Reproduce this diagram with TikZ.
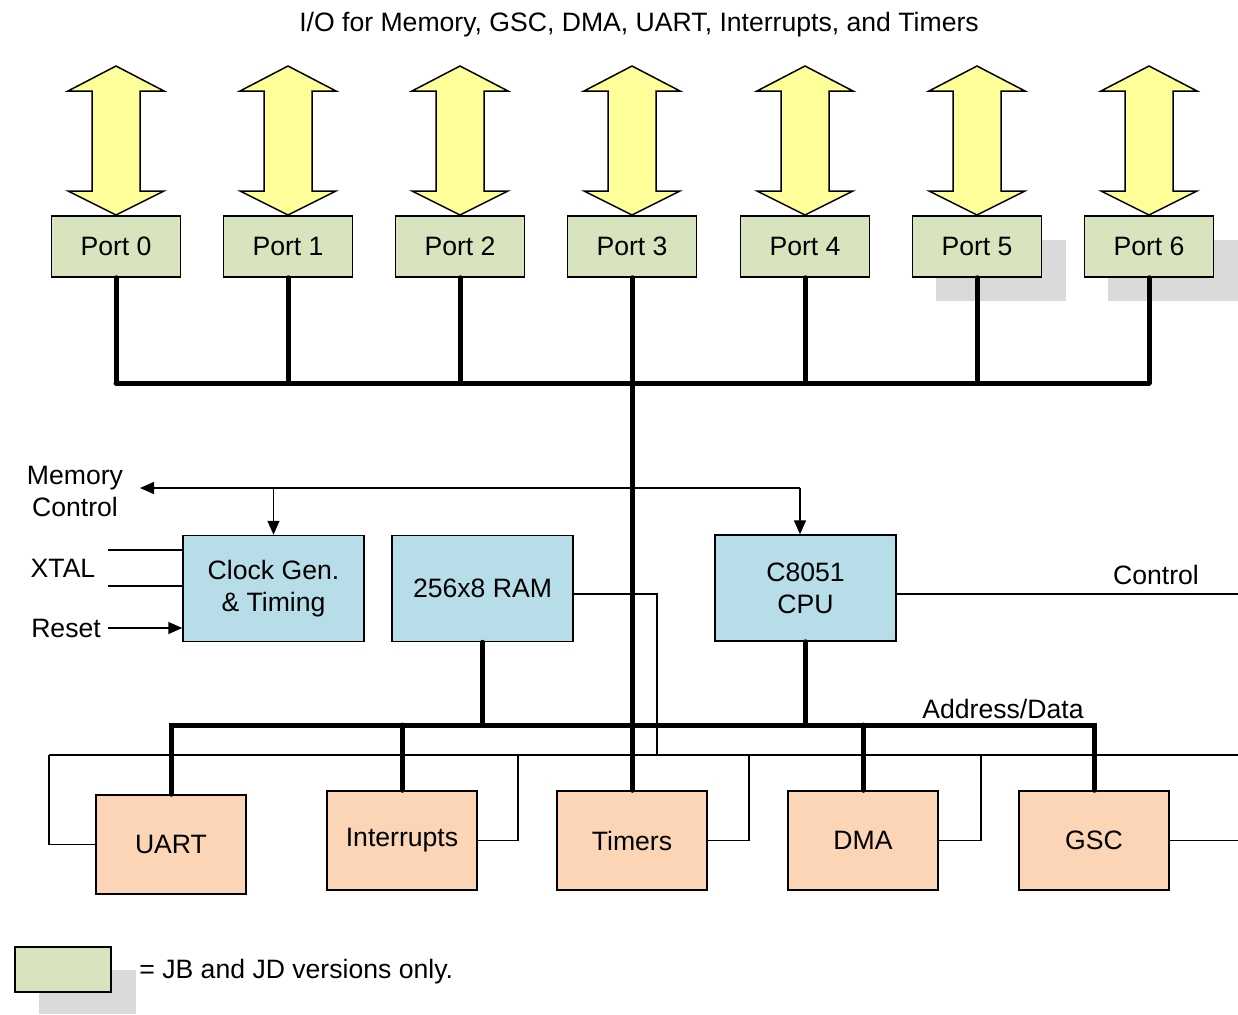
\documentclass[tikz,border=0pt]{standalone}
\usepackage{fontspec}
\setmainfont{Liberation Sans}
\usetikzlibrary{arrows.meta}
\definecolor{portgreen}{HTML}{D7E4BD}
\definecolor{arrowyellow}{HTML}{FFFF99}
\definecolor{blkblue}{HTML}{B7DDE8}
\definecolor{perpeach}{HTML}{FBD5B5}
\definecolor{shadowgray}{HTML}{DADADA}
\begin{document}
\begin{tikzpicture}[x=0.5pt,y=-0.5pt,
  font=\fontsize{13.3}{16}\selectfont,
  box/.style={draw, line width=0.75pt, inner sep=0pt, align=center},
  port/.style={box, fill=portgreen, minimum width=64.5pt, minimum height=30.5pt},
  blk/.style={box, fill=blkblue, minimum width=90.5pt, minimum height=53pt},
  per/.style={box, fill=perpeach, minimum width=75pt, minimum height=49.5pt},
  bus/.style={line width=2.5pt, line cap=round},
  sig/.style={line width=0.75pt},
  shade/.style={fill=shadowgray},
  arr/.style={-{Triangle[length=7pt,width=6pt]}},
  bigarrow/.style={draw, line width=0.75pt, fill=arrowyellow, line join=miter}]
\useasboundingbox (0,0) rectangle (1238,1014);
\node (title) at (639,25) {I/O for Memory, GSC, DMA, UART, Interrupts, and Timers};
% shadows
\fill[shade] (936,240) rectangle (1066,301);
\fill[shade] (1108,240) rectangle (1238,301);
\fill[shade] (39,970) rectangle (136,1014);
% ports and block arrows
\foreach \i/\cx in {0/116,1/288,2/460,3/632,4/805,5/977,6/1149}{
  \draw[bigarrow] (\cx,66) -- (\cx+48,91) -- (\cx+24,91) -- (\cx+24,191) -- (\cx+48,191)
     -- (\cx,215) -- (\cx-48,191) -- (\cx-24,191) -- (\cx-24,91) -- (\cx-48,91) -- cycle;
  \node[port] (p\i) at (\cx,246.5) {Port \i};
}
% blocks
\node[blk] (clk) at (273.5,588.5) {Clock Gen.\\\& Timing};
\node[blk] (ram) at (482.5,588.5) {256x8 RAM};
\node[blk] (cpu) at (805.5,588) {C8051\\CPU};
% peripherals
\node[per] (uart) at (171,844.5) {UART};
\node[per] (int) at (402,840.5) {Interrupts};
\node[per] (tim) at (632,840.5) {Timers};
\node[per] (dma) at (863,840.5) {DMA};
\node[per] (gsc) at (1094,840.5) {GSC};
% legend
\node[port, minimum width=48pt, minimum height=22.5pt] (leg) at (63,969.5) {};
\node[anchor=west, inner sep=0pt] (legtxt) at (139,972) {= JB and JD versions only.};
% labels
\node[align=center] (memctl) at (75,491) {Memory\\Control};
\node (xtal) at (63,568) {XTAL};
\node (rst) at (66,628) {Reset};
\node (ctl) at (1156,575) {Control};
\node (addr) at (1003,709) {Address/Data};
% coordinates
\coordinate (tbus) at (0,383);
\coordinate (bbus) at (0,725);
\coordinate (mcL) at (140,488);
\coordinate (mcR) at (800,488);
\coordinate (x1) at (108,550);
\coordinate (x2) at (108,586);
\coordinate (rs) at (108,628);
\coordinate (ramR) at (657,594);
\coordinate (lbL) at (49,755);
\coordinate (lbR) at (1238,755);
\coordinate (ctlR) at (1238,594);
\coordinate (intR) at (518,755);
\coordinate (timR) at (749,755);
\coordinate (dmaR) at (981,755);
\coordinate (gscR) at (1238,840.5);
% top bus
\foreach \i in {0,1,2,4,5,6}{
  \draw[bus] (p\i.south) -- (p\i.south |- tbus);
}
\draw[bus] (p0.south |- tbus) -- (p6.south |- tbus);
\draw[bus] (p3.south) -- (tim.north);
% memory control
\draw[sig,arr] (mcR) -- (mcL);
\draw[sig,arr] (clk.north |- mcL) -- (clk.north);
\draw[sig,arr] (mcR) -- (mcR |- cpu.north);
% xtal / reset
\draw[sig] (x1) -- (x1 -| clk.west);
\draw[sig] (x2) -- (x2 -| clk.west);
\draw[sig,arr] (rs) -- (rs -| clk.west);
% ram side line
\draw[sig] (ram.east |- ramR) -- (ramR) -- (ramR |- lbL);
% control
\draw[sig] (cpu.east |- ctlR) -- (ctlR);
% bottom bus
\draw[bus] (uart.north) -- (uart.north |- bbus) -- (gsc.north |- bbus) -- (gsc.north);
\draw[bus] (int.north |- bbus) -- (int.north);
\draw[bus] (dma.north |- bbus) -- (dma.north);
\draw[bus] (ram.south) -- (ram.south |- bbus);
\draw[bus] (cpu.south) -- (cpu.south |- bbus);
% thin peripheral bus
\draw[sig] (lbL) -- (lbR);
\draw[sig] (uart.west) -| (lbL);
\draw[sig] (int.east) -| (intR);
\draw[sig] (tim.east) -| (timR);
\draw[sig] (dma.east) -| (dmaR);
\draw[sig] (gsc.east) -- (gscR);
\end{tikzpicture}
\end{document}
